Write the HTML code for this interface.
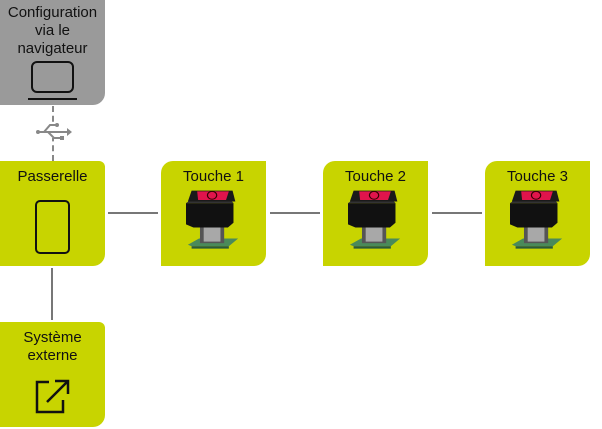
<!DOCTYPE html>
<html><head><meta charset="utf-8"><style>
body{margin:0;width:602px;height:429px;background:#fff;position:relative;overflow:hidden;font-family:"Liberation Sans","DejaVu Sans",sans-serif;}
.b{position:absolute;width:105px;height:105px;background:#c8d400;border-radius:12px 0 12px 0;}
.t{position:absolute;left:0;width:100%;text-align:center;font-size:15px;color:#111;line-height:18px;}
.l{position:absolute;background:#777;}
</style></head><body>
<div class="b" style="left:0;top:0;background:#9a9a9a;border-radius:0 0 12px 0">
<div class="t" style="top:4px">Configuration<br>via le<br>navigateur</div>
<div style="position:absolute;left:31px;top:61px;width:39px;height:28px;border:2px solid #111;border-radius:6px"></div>
<div style="position:absolute;left:28px;top:98px;width:49px;height:2px;background:#111"></div>
</div>
<div style="position:absolute;left:52px;top:106px;height:55px;border-left:2px dashed #888"></div>
<svg style="position:absolute;left:34px;top:120px" width="40" height="24" viewBox="0 0 40 24">
<rect x="5" y="6" width="30" height="12" fill="#fff"/>
<path d="M4 12H35M10 12L16 5H22M14 12L20 18H27" stroke="#888" stroke-width="2" fill="none"/>
<circle cx="4" cy="12" r="2" fill="#888"/><circle cx="23" cy="5" r="2" fill="#888"/><rect x="26" y="16" width="4" height="4" fill="#888"/>
<path d="M33 8L38 12L33 16Z" fill="#888"/></svg>
<div class="b" style="left:0;top:161px;border-radius:0 6px 12px 0"><div class="t" style="top:7px">Passerelle</div>
<div style="position:absolute;left:35px;top:39px;width:31px;height:50px;border:2px solid #111;border-radius:5px"></div></div>
<div class="l" style="left:108px;top:212px;width:50px;height:2px"></div>
<div class="l" style="left:270px;top:212px;width:50px;height:2px"></div>
<div class="l" style="left:432px;top:212px;width:50px;height:2px"></div>
<div class="l" style="left:51px;top:268px;width:2px;height:52px"></div>
<div class="b" style="left:0;top:322px;border-radius:0 6px 12px 0"><div class="t" style="top:7px">Système<br>externe</div>
<svg style="position:absolute;left:33px;top:55px" width="40" height="40" viewBox="0 0 40 40" fill="none" stroke="#111" stroke-width="2.5"><path d="M16 5H4V35H30V23"/><path d="M14 25L35 4M22 4H35V17"/></svg></div>
<svg width="0" height="0" style="position:absolute"><defs><g id="btn">
<path d="M2 74l12 -8h42l-10 10H6z" fill="#4a8a5a"/><path d="M6 76h40v3H6z" fill="#2c5a3a"/>
<rect x="15" y="50" width="26" height="22" fill="#555"/><rect x="19" y="52" width="18" height="18" fill="#a8a8a8"/>
<path d="M0 21h51v25l-6 6H8l-8-4z" fill="#111"/><path d="M0 21h51l-3 -4H5z" fill="#333"/>
<path d="M6 5h44l3 14H2z" fill="#1a1a1a"/><path d="M12 6h34l-3 11H13z" fill="#e0144c"/>
<circle cx="28" cy="11" r="5" fill="none" stroke="#300" stroke-width="1.3"/>
</g></defs></svg>
<div class="b" style="left:161px;top:161px"><div class="t" style="top:7px">Touche 1</div>
<svg style="position:absolute;left:25px;top:28px" width="54" height="62" viewBox="0 3 58 79" preserveAspectRatio="none"><use href="#btn"/></svg></div>
<div class="b" style="left:323px;top:161px"><div class="t" style="top:7px">Touche 2</div>
<svg style="position:absolute;left:25px;top:28px" width="54" height="62" viewBox="0 3 58 79" preserveAspectRatio="none"><use href="#btn"/></svg></div>
<div class="b" style="left:485px;top:161px"><div class="t" style="top:7px">Touche 3</div>
<svg style="position:absolute;left:25px;top:28px" width="54" height="62" viewBox="0 3 58 79" preserveAspectRatio="none"><use href="#btn"/></svg></div>
</body></html>
